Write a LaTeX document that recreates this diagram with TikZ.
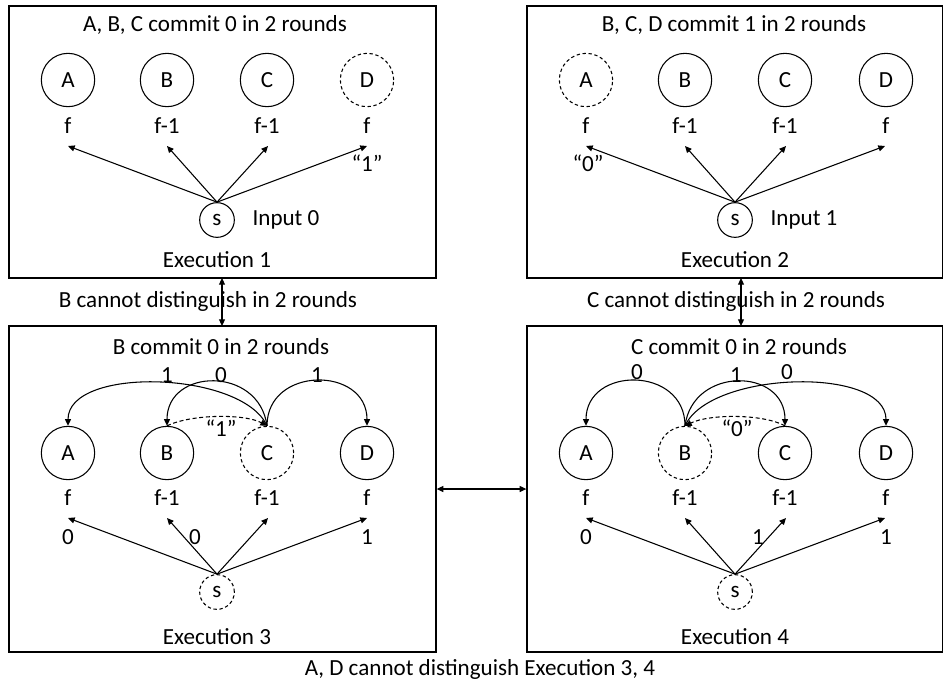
\documentclass[tikz,border=0pt]{standalone}
\usepackage{fontspec}
\setmainfont{Carlito}
\usetikzlibrary{arrows.meta,fit}
\begin{document}
\begin{tikzpicture}[x=0.75pt,y=-0.75pt,
  every node/.style={font=\fontsize{17.3}{20}\selectfont, inner sep=1pt},
  proc/.style={circle,draw,line width=0.8pt,minimum size=40pt,inner sep=0pt},
  faulty/.style={proc,dash pattern=on 2.5pt off 2pt},
  src/.style={circle,draw,line width=0.8pt,minimum size=26pt,inner sep=0pt},
  fsrc/.style={src,dash pattern=on 2.5pt off 2pt},
  panel/.style={draw,line width=1pt,inner sep=0pt},
  tip/.style={-{Triangle[length=5pt,width=4.5pt]}},
  arr/.style={line width=0.8pt,tip},
  darr/.style={arr,dash pattern=on 3pt off 2pt},
  dbl/.style={line width=0.8pt,{Triangle[length=5pt,width=4.5pt]}-{Triangle[length=5pt,width=4.5pt]}}]
\fill[white] (0,0) rectangle (944,686);
\useasboundingbox (0,0) rectangle (944,686);

% panels
\node[panel,fit={(9,6) (436,278)}] (p1) {};
\node[panel,fit={(527,6) (942.5,278)}] (p2) {};
\node[panel,fit={(9,326) (436,652)}] (p3) {};
\node[panel,fit={(527,326) (942.5,652)}] (p4) {};

% ---------- Execution 1 ----------
\node (t1) at (215,25) {A, B, C commit 0 in 2 rounds};
\node[proc] (A1) at (68,80) {A};
\node[proc] (B1) at (167,80) {B};
\node[proc] (C1) at (267,80) {C};
\node[faulty] (D1) at (367,80) {D};
\node (fA1) at (68,126) {f};
\node (fB1) at (167,126) {f-1};
\node (fC1) at (267,126) {f-1};
\node (fD1) at (367,126) {f};
\node[src] (s1) at (217,220) {s};
\node (in1) at (286,220) {Input 0};
\node (x1) at (217,260) {Execution 1};
\node (q1) at (367,163) {“1”};
\coordinate (kA1) at (68,146);
\coordinate (kB1) at (167,146);
\coordinate (kC1) at (268,146);
\coordinate (kD1) at (367,146);
\foreach \k in {kA1,kB1,kC1,kD1} \draw[arr] (s1.north) -- (\k);

% ---------- Execution 2 ----------
\node (t2) at (734,25) {B, C, D commit 1 in 2 rounds};
\node[faulty] (A2) at (586,80) {A};
\node[proc] (B2) at (685,80) {B};
\node[proc] (C2) at (785,80) {C};
\node[proc] (D2) at (886,80) {D};
\node (fA2) at (586,126) {f};
\node (fB2) at (685,126) {f-1};
\node (fC2) at (785,126) {f-1};
\node (fD2) at (886,126) {f};
\node[src] (s2) at (735,220) {s};
\node (in2) at (804,220) {Input 1};
\node (x2) at (735,260) {Execution 2};
\node (q2) at (588,163) {“0”};
\coordinate (kA2) at (586,146);
\coordinate (kB2) at (685,146);
\coordinate (kC2) at (786,146);
\coordinate (kD2) at (885,146);
\foreach \k in {kA2,kB2,kC2,kD2} \draw[arr] (s2.north) -- (\k);

% ---------- Execution 3 ----------
\node (t3) at (221,347) {B commit 0 in 2 rounds};
\node[proc] (A3) at (68,453) {A};
\node[proc] (B3) at (167,453) {B};
\node[faulty] (C3) at (267,453) {C};
\node[proc] (D3) at (367,453) {D};
\node (fA3) at (68,498) {f};
\node (fB3) at (167,498) {f-1};
\node (fC3) at (267,498) {f-1};
\node (fD3) at (367,498) {f};
\node[fsrc] (s3) at (217,592) {s};
\node (x3) at (217,637) {Execution 3};
\coordinate (kA3) at (68,518);
\coordinate (kB3) at (167,518);
\coordinate (kC3) at (268,518);
\coordinate (kD3) at (367,518);
\foreach \k in {kA3,kB3,kC3,kD3} \draw[arr] (s3.north) -- (\k);
\node (v3a) at (68,537) {0};
\node (v3b) at (195,537) {0};
\node (v3d) at (367,537) {1};
\draw[arr] (C3.north) .. controls +(-25,-55) and +(0,-60) .. (A3.north);
\draw[arr] (C3.north) .. controls +(-8,-60) and +(0,-58) .. (B3.north);
\draw[arr] (C3.north) .. controls +(0,-60) and +(0,-60) .. (D3.north);
\draw[darr] (B3.north) .. controls +(25,-12) and +(-22,-12) .. (C3.north);
\node (m3a) at (167,375) {1};
\node (m3b) at (221,375) {0};
\node (m3d) at (317,375) {1};
\node (m3q) at (221,428) {“1”};

% ---------- Execution 4 ----------
\node (t4) at (739,347) {C commit 0 in 2 rounds};
\node[proc] (A4) at (586,453) {A};
\node[faulty] (B4) at (685,453) {B};
\node[proc] (C4) at (785,453) {C};
\node[proc] (D4) at (886,453) {D};
\node (fA4) at (586,498) {f};
\node (fB4) at (685,498) {f-1};
\node (fC4) at (785,498) {f-1};
\node (fD4) at (886,498) {f};
\node[fsrc] (s4) at (735,592) {s};
\node (x4) at (735,637) {Execution 4};
\coordinate (kA4) at (586,518);
\coordinate (kB4) at (685,518);
\coordinate (kC4) at (786,518);
\coordinate (kD4) at (885,518);
\foreach \k in {kA4,kB4,kC4,kD4} \draw[arr] (s4.north) -- (\k);
\node (v4a) at (586,537) {0};
\node (v4c) at (758,537) {1};
\node (v4d) at (886,537) {1};
\draw[arr] (B4.north) .. controls +(0,-60) and +(0,-60) .. (A4.north);
\draw[arr] (B4.north) .. controls +(8,-60) and +(0,-58) .. (C4.north);
\draw[arr] (B4.north) .. controls +(25,-55) and +(0,-60) .. (D4.north);
\draw[darr] (C4.north) .. controls +(-22,-12) and +(25,-12) .. (B4.north);
\node (m4a) at (637,372) {0};
\node (m4c) at (736,375) {1};
\node (m4d) at (787,372) {0};
\node (m4q) at (737,428) {“0”};

% ---------- between panels ----------
\node (bl) at (208,301) {B cannot distinguish in 2 rounds};
\node (cl) at (736,301) {C cannot distinguish in 2 rounds};
\node (adl) at (480,669) {A, D cannot distinguish Execution 3, 4};
\coordinate (u13) at (222,278);
\coordinate (d13) at (222,326);
\coordinate (u24) at (741,278);
\coordinate (d24) at (741,326);
\draw[dbl] (u13) -- (d13);
\draw[dbl] (u24) -- (d24);
\draw[dbl] (p3.east |- 0,489) -- (p4.west |- 0,489);
\end{tikzpicture}
\end{document}
